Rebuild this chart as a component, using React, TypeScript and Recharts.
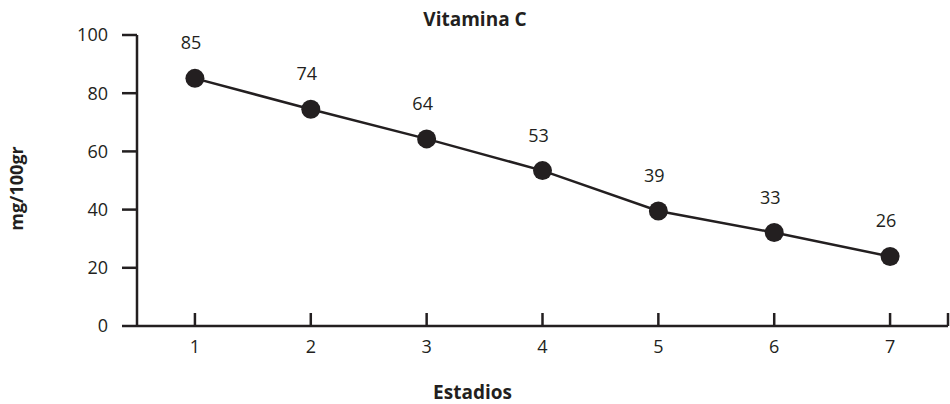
import { LineChart, Line, XAxis, YAxis, LabelList, Label } from "recharts";

// Vitamina C por estadio
const stages = [1, 2, 3, 4, 5, 6, 7];
const vitaminC = [85.1, 74.5, 64.3, 53.4, 39.5, 32.1, 23.9];
const valueLabels = ["85", "74", "64", "53", "39", "33", "26"];
const yTicks = [0, 20, 40, 60, 80, 100];
const xTicks = [1, 2, 3, 4, 5, 6, 7, 7.5];

const INK = "#231f20";
const FONT = "'Open Sans', sans-serif";

const data = stages.map((s, i) => ({
  stage: s,
  value: vitaminC[i],
  label: valueLabels[i],
}));

const ValueLabel = (props: any) => {
  const { x, y, index } = props;
  return (
    <text
      x={x - 4}
      y={y - 29}
      textAnchor="middle"
      fill={INK}
      fontSize={18}
      fontFamily={FONT}
    >
      {valueLabels[index]}
    </text>
  );
};

export default function App() {
  return (
    <div style={{ position: "absolute", left: 0, top: 0, background: "#fff" }}>
      <LineChart
        width={950}
        height={404}
        data={data}
        margin={{ top: 35, right: 2, left: 0, bottom: 0 }}
      >
        <text
          x={475}
          y={26}
          textAnchor="middle"
          fill={INK}
          fontSize={19}
          fontWeight={700}
          fontFamily={FONT}
        >
          Vitamina C
        </text>
        <XAxis
          dataKey="stage"
          type="number"
          domain={[0.5, 7.5]}
          ticks={xTicks}
          tickFormatter={(v) => (v === 7.5 ? "" : String(v))}
          height={78}
          tickSize={-13}
          tickMargin={27}
          axisLine={{ stroke: INK, strokeWidth: 2.5 }}
          tickLine={{ stroke: INK, strokeWidth: 2.5 }}
          tick={{ fill: INK, fontSize: 18, fontFamily: FONT }}
        >
          <Label
            content={(p: any) => {
              const vb = p.viewBox;
              return (
                <text
                  x={vb.x + vb.width / 2 - 70}
                  y={vb.y + 73}
                  textAnchor="middle"
                  fill={INK}
                  fontSize={19}
                  fontWeight={700}
                  fontFamily={FONT}
                >
                  Estadios
                </text>
              );
            }}
          />
        </XAxis>
        <YAxis
          type="number"
          domain={[0, 100]}
          ticks={yTicks}
          width={137}
          tickSize={15}
          tickMargin={14}
          axisLine={{ stroke: INK, strokeWidth: 2.5 }}
          tickLine={{ stroke: INK, strokeWidth: 2.5 }}
          tick={{ fill: INK, fontSize: 18, fontFamily: FONT }}
        >
          <Label
            content={(p: any) => {
              const vb = p.viewBox;
              const cx = 23;
              const cy = vb.y + vb.height / 2 + 8;
              return (
                <text
                  x={cx}
                  y={cy}
                  textAnchor="middle"
                  transform={`rotate(-90, ${cx}, ${cy})`}
                  fill={INK}
                  fontSize={18}
                  fontWeight={700}
                  fontFamily={FONT}
                >
                  mg/100gr
                </text>
              );
            }}
          />
        </YAxis>
        <Line
          type="linear"
          dataKey="value"
          stroke={INK}
          strokeWidth={2.5}
          dot={{ r: 9.5, fill: INK, stroke: INK, strokeWidth: 0 }}
          activeDot={false}
          isAnimationActive={false}
        >
          <LabelList dataKey="label" content={ValueLabel} />
        </Line>
      </LineChart>
    </div>
  );
}
